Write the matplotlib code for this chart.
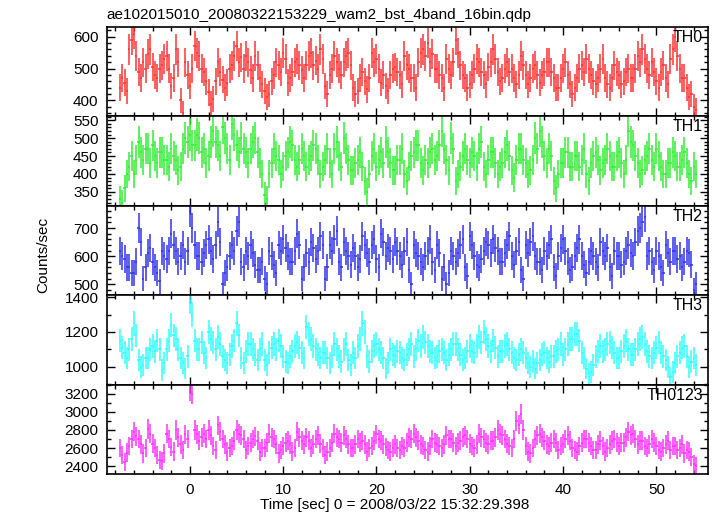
import numpy as np
import matplotlib
matplotlib.use("Agg")
import matplotlib.pyplot as plt
from matplotlib.ticker import MultipleLocator

plt.rcParams['font.family'] = ['Liberation Sans', 'DejaVu Sans']

# light-curve bins (start time, bin width in s)
T_START = -7.5
BIN = 0.25

th0 = [440, 470, 455, 430, 560, 590, 610, 540, 490, 470, 520, 500, 545, 560, 505, 480, 470, 500, 510, 530,
       540, 500, 445, 470, 560, 520, 400, 360, 520, 480, 445, 500, 570, 550, 540, 500, 490, 460, 425, 390,
       405, 460, 520, 490, 465, 440, 455, 500, 510, 540, 570, 520, 535, 500, 540, 520, 495, 470, 540, 510,
       470, 450, 430, 410, 420, 460, 480, 520, 510, 490, 550, 530, 455, 470, 490, 520, 530, 510, 495, 470,
       510, 540, 550, 510, 525, 500, 560, 530, 445, 420, 480, 500, 540, 520, 500, 480, 520, 540, 550, 510,
       440, 420, 430, 470, 490, 460, 435, 470, 550, 520, 530, 500, 455, 480, 445, 430, 480, 500, 505, 490,
       480, 450, 540, 510, 500, 470, 470, 440, 520, 550, 560, 540, 580, 520, 545, 500, 500, 480, 470, 440,
       530, 500, 480, 520, 590, 550, 510, 480, 470, 440, 450, 480, 500, 530, 520, 490, 480, 450, 505, 520,
       560, 530, 490, 460, 470, 500, 520, 490, 500, 470, 450, 480, 540, 510, 480, 450, 470, 500, 510, 480,
       455, 480, 490, 520, 520, 490, 470, 440, 440, 470, 500, 520, 480, 450, 420, 440, 470, 500, 510, 490,
       530, 500, 480, 460, 450, 470, 500, 530, 470, 450, 440, 470, 510, 490, 480, 450, 460, 490, 500, 470,
       470, 500, 540, 520, 560, 530, 500, 480, 520, 490, 460, 440, 490, 510, 470, 450, 530, 560, 600, 540,
       500, 470, 470, 440, 410, 420, 380, 370]

th1 = [330, 320, 360, 400, 420, 450, 400, 440, 490, 460, 440, 470, 470, 430, 480, 450, 430, 460, 460, 440,
       440, 420, 470, 450, 440, 410, 420, 470, 500, 490, 510, 480, 480, 510, 500, 460, 470, 430, 450, 490,
       520, 490, 480, 450, 530, 500, 470, 440, 540, 510, 480, 460, 500, 470, 460, 430, 470, 490, 500, 460,
       430, 400, 340, 330, 400, 430, 470, 450, 440, 400, 420, 450, 460, 490, 480, 440, 420, 440, 470, 450,
       420, 440, 450, 480, 470, 440, 400, 420, 440, 470, 430, 400, 470, 490, 450, 420, 500, 470, 440, 410,
       410, 430, 440, 460, 420, 380, 350, 400, 450, 470, 420, 440, 460, 430, 490, 460, 430, 410, 410, 440,
       440, 470, 400, 380, 420, 450, 460, 480, 480, 430, 410, 440, 430, 460, 470, 440, 450, 480, 520, 470,
       440, 410, 500, 470, 380, 400, 420, 450, 470, 440, 430, 460, 450, 420, 470, 490, 420, 400, 440, 460,
       460, 430, 400, 420, 430, 460, 480, 450, 410, 390, 440, 470, 470, 440, 430, 400, 410, 440, 500, 470,
       520, 490, 450, 430, 470, 450, 380, 360, 400, 430, 430, 460, 460, 420, 420, 450, 450, 420, 440, 470,
       400, 380, 430, 450, 460, 440, 410, 430, 440, 470, 450, 420, 420, 450, 460, 430, 400, 440, 520, 490,
       480, 450, 430, 400, 410, 440, 450, 470, 440, 420, 470, 450, 420, 400, 400, 430, 430, 460, 450, 420,
       420, 440, 460, 430, 400, 380, 420, 400]

th2 = [620, 600, 590, 560, 560, 540, 540, 580, 700, 650, 520, 560, 610, 630, 580, 560, 540, 510, 620, 600,
       590, 620, 680, 640, 620, 580, 600, 640, 580, 620, 760, 700, 640, 600, 600, 580, 610, 640, 660, 620,
       590, 640, 720, 650, 500, 540, 560, 600, 640, 620, 690, 720, 580, 560, 620, 600, 640, 610, 570, 550,
       550, 580, 520, 500, 620, 600, 570, 540, 640, 620, 660, 630, 600, 580, 580, 620, 680, 640, 520, 560,
       610, 580, 650, 630, 590, 620, 670, 640, 520, 560, 640, 620, 660, 690, 580, 560, 650, 620, 600, 570,
       630, 600, 560, 590, 670, 640, 610, 580, 640, 660, 590, 560, 680, 650, 600, 630, 620, 590, 650, 620,
       600, 570, 620, 650, 550, 500, 640, 610, 600, 580, 560, 600, 620, 660, 580, 550, 640, 610, 520, 560,
       500, 540, 620, 600, 580, 610, 640, 660, 560, 530, 670, 640, 600, 570, 560, 590, 620, 650, 640, 610,
       660, 630, 620, 580, 580, 610, 640, 670, 600, 570, 620, 650, 550, 520, 640, 610, 650, 670, 600, 580,
       580, 550, 620, 600, 640, 660, 560, 530, 600, 630, 660, 620, 580, 550, 560, 600, 630, 660, 600, 570,
       540, 580, 620, 600, 580, 560, 650, 620, 600, 630, 560, 530, 620, 600, 600, 570, 580, 620, 640, 610,
       600, 650, 690, 700, 720, 740, 600, 620, 580, 550, 620, 600, 560, 540, 640, 610, 580, 620, 620, 590,
       600, 560, 580, 620, 610, 570, 480, 500]

th3 = [1150, 1110, 1080, 1050, 1100, 1160, 1250, 1180, 1040, 1000, 1010, 1050, 1050, 1100, 1120, 1090, 1150, 1100, 980, 1020,
       1100, 1150, 1240, 1180, 1160, 1100, 1050, 1020, 990, 1060, 1380, 1300, 1150, 1100, 1100, 1140, 1080, 1050, 1200, 1160,
       1140, 1100, 1170, 1130, 1060, 1040, 1020, 1070, 1120, 1150, 1250, 1180, 1050, 1020, 1090, 1130, 1130, 1100, 1070, 1040,
       1100, 1130, 1040, 1010, 1080, 1110, 1130, 1100, 1150, 1120, 1060, 1030, 1020, 1060, 1090, 1120, 1140, 1110, 1080, 1050,
       1230, 1190, 1160, 1120, 1100, 1070, 1050, 1080, 1080, 1050, 1020, 1060, 1130, 1100, 1060, 1030, 1100, 1130, 1040, 1010,
       1080, 1050, 1120, 1160, 1250, 1200, 1060, 1030, 1090, 1120, 1130, 1100, 1080, 1050, 990, 1020, 1100, 1070, 1060, 1090,
       1080, 1050, 1040, 1070, 1100, 1130, 1060, 1100, 1150, 1120, 1170, 1140, 1120, 1090, 1080, 1050, 1060, 1090, 1100, 1080,
       1040, 1070, 1100, 1130, 1130, 1100, 1070, 1040, 1050, 1090, 1120, 1090, 1080, 1120, 1170, 1140, 1200, 1160, 1120, 1090,
       1150, 1110, 1060, 1090, 1090, 1120, 1130, 1100, 1080, 1050, 1040, 1070, 1100, 1080, 1050, 1020, 1000, 1030, 990, 1020,
       1040, 1070, 1080, 1050, 1030, 1060, 1060, 1090, 1100, 1130, 1070, 1100, 1130, 1160, 1160, 1190, 1190, 1150, 1080, 1050,
       990, 960, 970, 1010, 1060, 1090, 1120, 1090, 1100, 1130, 1140, 1110, 1080, 1050, 1050, 1090, 1120, 1150, 1100, 1070,
       1070, 1100, 1130, 1160, 1170, 1130, 1090, 1060, 1050, 1080, 1110, 1140, 1080, 1060, 1040, 1000, 940, 970, 1020, 1060,
       1080, 1110, 1120, 1060, 1000, 1030, 1050, 1010]

th0123 = [2600, 2520, 2450, 2550, 2620, 2700, 2780, 2730, 2700, 2640, 2540, 2600, 2810, 2760, 2650, 2600, 2520, 2470, 2460, 2540,
          2760, 2700, 2610, 2560, 2800, 2720, 2640, 2580, 2750, 2700, 3240, 3200, 2800, 2750, 2680, 2720, 2760, 2700, 2800, 2740,
          2620, 2580, 2850, 2780, 2700, 2640, 2560, 2600, 2620, 2680, 2800, 2760, 2740, 2700, 2580, 2620, 2660, 2700, 2730, 2680,
          2560, 2600, 2600, 2660, 2760, 2720, 2700, 2640, 2540, 2580, 2620, 2660, 2680, 2640, 2560, 2600, 2780, 2720, 2680, 2640,
          2720, 2680, 2600, 2640, 2700, 2740, 2650, 2600, 2520, 2560, 2600, 2660, 2760, 2720, 2700, 2660, 2740, 2700, 2640, 2600,
          2600, 2640, 2700, 2660, 2680, 2640, 2560, 2600, 2620, 2680, 2750, 2700, 2680, 2640, 2610, 2580, 2560, 2600, 2640, 2600,
          2580, 2620, 2600, 2660, 2720, 2700, 2760, 2720, 2680, 2640, 2620, 2580, 2560, 2620, 2700, 2660, 2650, 2620, 2600, 2640,
          2740, 2700, 2700, 2660, 2620, 2660, 2680, 2720, 2740, 2700, 2650, 2620, 2600, 2640, 2760, 2720, 2700, 2660, 2640, 2680,
          2680, 2720, 2800, 2760, 2740, 2700, 2650, 2620, 2600, 2700, 2900, 2860, 2980, 2800, 2620, 2560, 2540, 2600, 2700, 2740,
          2760, 2720, 2680, 2640, 2620, 2660, 2700, 2660, 2580, 2620, 2650, 2700, 2740, 2680, 2600, 2580, 2560, 2620, 2660, 2700,
          2700, 2660, 2620, 2580, 2580, 2640, 2680, 2620, 2560, 2600, 2640, 2680, 2700, 2660, 2620, 2660, 2660, 2720, 2780, 2740,
          2760, 2700, 2640, 2680, 2680, 2620, 2600, 2640, 2700, 2660, 2620, 2580, 2560, 2600, 2640, 2680, 2580, 2620, 2620, 2580,
          2600, 2640, 2540, 2580, 2560, 2500, 2420, 2400]

names = ["TH0", "TH1", "TH2", "TH3", "TH0123"]
series = [th0, th1, th2, th3, th0123]
colors = ["#ff3333", "#33ee33", "#3333ee", "#33ffff", "#ff33ff"]
ylims = [(350, 631), (311, 561), (461, 779), (897, 1411), (2310, 3301)]
ymajor = [100, 50, 100, 200, 200]
yminor = [20, 10, 20, 100, 100]

fig = plt.figure(figsize=(7.17, 5.16), dpi=100)
gs = fig.add_gridspec(5, 1, left=0.149, right=0.987, top=0.948, bottom=0.081, hspace=0)

for i, (name, y, c) in enumerate(zip(names, series, colors)):
    ax = fig.add_subplot(gs[i])
    y = np.array(y, dtype=float)
    t = T_START + BIN * np.arange(len(y))
    err = np.sqrt(y * BIN) / BIN   # Poisson error of the binned rate
    ax.errorbar(t, y, xerr=BIN / 2, yerr=err, fmt='none', ecolor=c,
                elinewidth=1.1, capsize=0)
    ax.set_xlim(-8.9, 55.5)
    ax.set_ylim(*ylims[i])
    ax.xaxis.set_major_locator(MultipleLocator(10))
    ax.xaxis.set_minor_locator(MultipleLocator(2))
    ax.yaxis.set_major_locator(MultipleLocator(ymajor[i]))
    ax.yaxis.set_minor_locator(MultipleLocator(yminor[i]))
    ax.tick_params(which='both', direction='in', top=True, right=True,
                   labelsize=11, width=1.0, color='black')
    ax.tick_params(which='major', length=6, pad=6)
    ax.tick_params(which='minor', length=3)
    for sp in ax.spines.values():
        sp.set_linewidth(1.2)
        sp.set_zorder(3)
    if i < 4:
        ax.tick_params(labelbottom=False)
    ax.text(0.992, 0.883, name, transform=ax.transAxes, ha='right', va='center',
            fontsize=11.5, zorder=4)

fig.text(0.149, 0.971, "ae102015010_20080322153229_wam2_bst_4band_16bin.qdp",
         ha='left', va='center', fontsize=11)
fig.text(0.06, 0.505, "Counts/sec", rotation=90, ha='center', va='center', fontsize=11)
fig.text(0.55, 0.022, "Time [sec] 0 = 2008/03/22 15:32:29.398", ha='center',
         va='center', fontsize=11)

fig.savefig("out.png", dpi=100, facecolor="white")
